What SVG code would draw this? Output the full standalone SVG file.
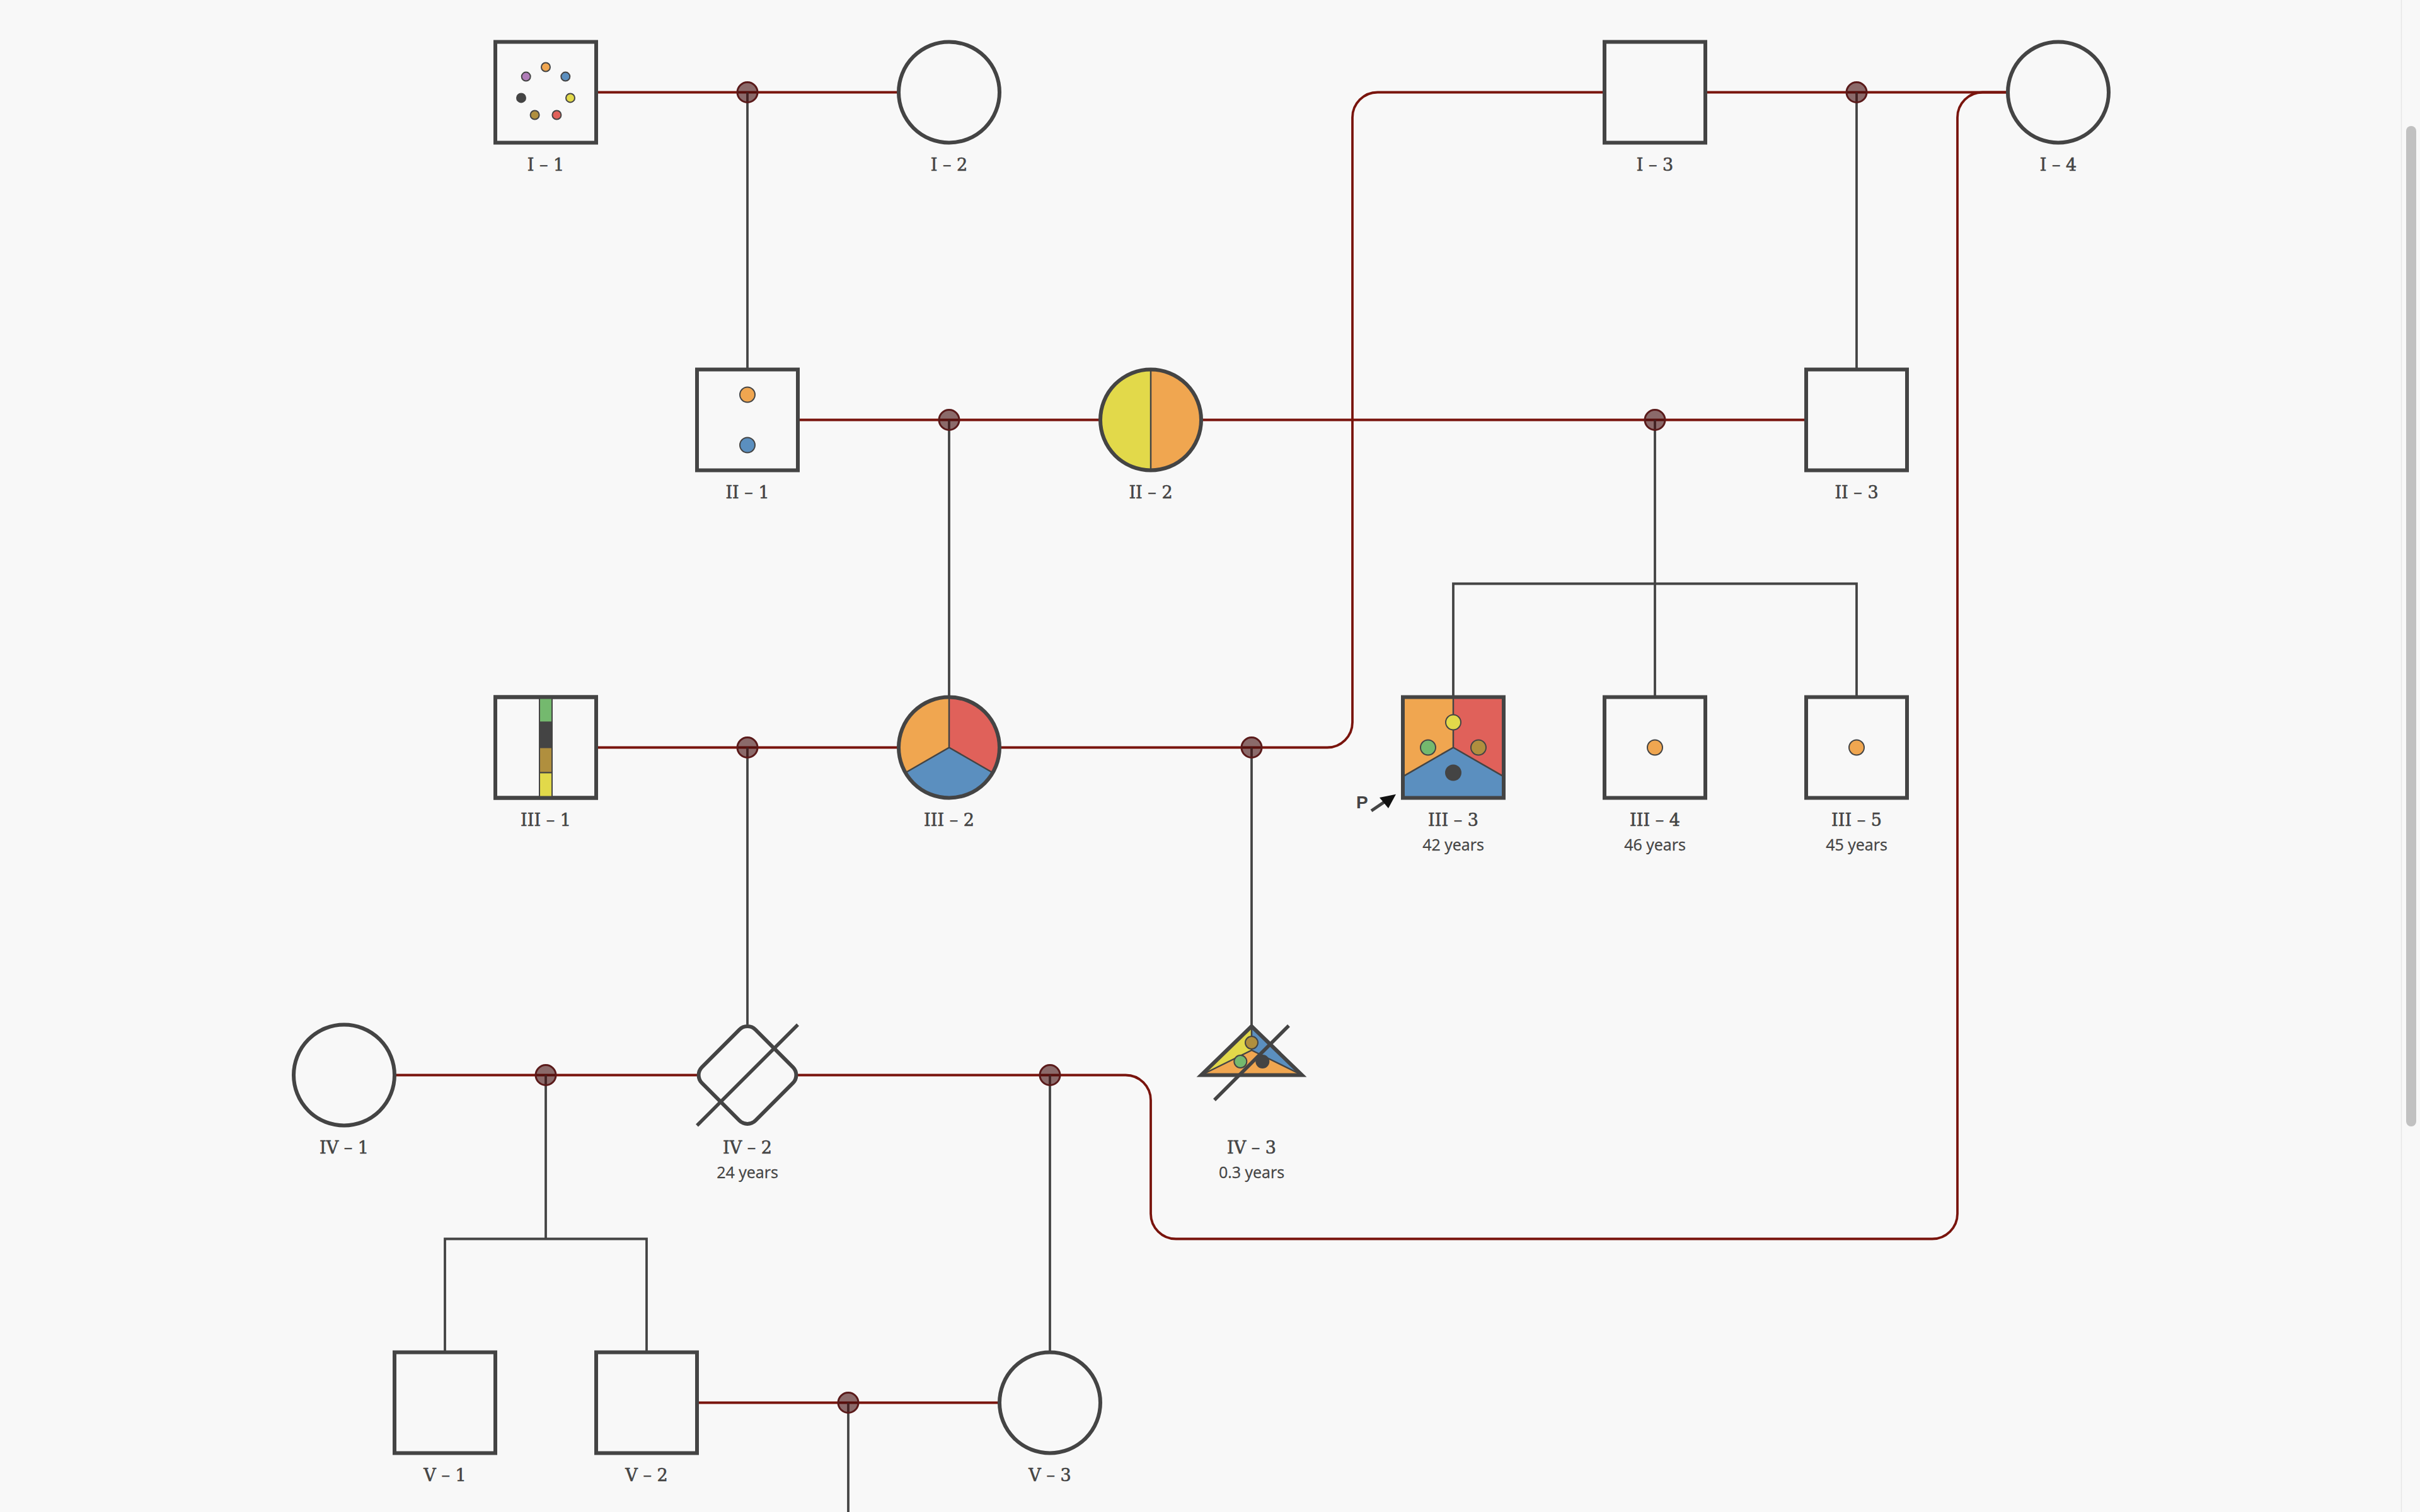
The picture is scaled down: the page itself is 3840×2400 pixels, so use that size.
<svg xmlns="http://www.w3.org/2000/svg" width="3840" height="2400" viewBox="0 0 3840 2400">
<defs>
<style>
.node{fill:#f8f8f8;stroke:#444;stroke-width:6}
.outline{fill:none;stroke:#444;stroke-width:6}
.rel{fill:none;stroke:#79140d;stroke-width:3.8}
.desc{fill:none;stroke:#444;stroke-width:3.8}
.dot{fill:#420b0b;fill-opacity:0.6;stroke:#5a1a1a;stroke-width:3}
.div{fill:none;stroke:#444;stroke-width:2.5}
.mk{stroke:#444;stroke-width:2}
.strike{stroke:#444;stroke-width:5.5;fill:none}
.lbl{font-family:"DejaVu Serif","Liberation Serif",serif;font-size:27px;fill:#444;stroke:#444;stroke-width:0.6;text-anchor:middle}
.age{font-family:"Open Sans","Noto Sans","Liberation Sans",sans-serif;font-size:25px;fill:#444;stroke:#444;stroke-width:0.3;text-anchor:middle}
.or{fill:#f0a650}.rd{fill:#e0615a}.bl{fill:#5b8fbf}.ye{fill:#e2d94a}.gr{fill:#74b96e}.br{fill:#b08f3e}.dk{fill:#444}.pu{fill:#b07cb8}
</style>
</defs>
<rect x="0" y="0" width="3840" height="2400" fill="#f8f8f8"/>

<g id="connectors">
  <path class="rel" d="M946 146.5H1426"/>
  <path class="rel" d="M2706 146.5H3186"/>
  <path class="rel" d="M1266 666.5H1746"/>
  <path class="rel" d="M1906 666.5H2866"/>
  <path class="rel" d="M946 1186.5H1426"/>
  <path class="rel" d="M1586 1186.5H2106A40 40 0 0 0 2146 1146.5V186.5A40 40 0 0 1 2186 146.5H2546"/>
  <path class="rel" d="M626 1706.5H1106"/>
  <path class="rel" d="M1266 1706.5H1786A40 40 0 0 1 1826 1746.5V1926.5A40 40 0 0 0 1866 1966.5H3066A40 40 0 0 0 3106 1926.5V186.5A40 40 0 0 1 3146 146.5H3186"/>
  <path class="rel" d="M1106 2226.5H1586"/>

  <path class="desc" d="M1186 146.5V586.5"/>
  <path class="desc" d="M2946 146.5V586.5"/>
  <path class="desc" d="M1506 666.5V1106.5"/>
  <path class="desc" d="M2626 666.5V1106.5"/>
  <path class="desc" d="M2306 1106.5V926.5H2946V1106.5"/>
  <path class="desc" d="M1186 1186.5V1626.5"/>
  <path class="desc" d="M1986 1186.5V1630"/>
  <path class="desc" d="M866 1706.5V1966.5"/>
  <path class="desc" d="M706 2146.5V1966.5H1026V2146.5"/>
  <path class="desc" d="M1666 1706.5V2146.5"/>
  <path class="desc" d="M1346 2226.5V2400"/>

  <circle class="dot" cx="1186" cy="146.5" r="16"/>
  <circle class="dot" cx="2946" cy="146.5" r="16"/>
  <circle class="dot" cx="1506" cy="666.5" r="16"/>
  <circle class="dot" cx="2626" cy="666.5" r="16"/>
  <circle class="dot" cx="1186" cy="1186.5" r="16"/>
  <circle class="dot" cx="1986" cy="1186.5" r="16"/>
  <circle class="dot" cx="866" cy="1706.5" r="16"/>
  <circle class="dot" cx="1666" cy="1706.5" r="16"/>
  <circle class="dot" cx="1346" cy="2226.5" r="16"/>
</g>

<g id="I-1">
  <rect class="node" x="786" y="66.5" width="160" height="160"/>
  <circle class="mk or" cx="866" cy="106.5" r="7"/>
  <circle class="mk bl" cx="897.3" cy="121.6" r="7"/>
  <circle class="mk ye" cx="905" cy="155.4" r="7"/>
  <circle class="mk rd" cx="883.4" cy="182.5" r="7"/>
  <circle class="mk br" cx="848.6" cy="182.5" r="7"/>
  <circle class="mk dk" cx="827" cy="155.4" r="7"/>
  <circle class="mk pu" cx="834.7" cy="121.6" r="7"/>
  <text class="lbl" x="866" y="270.5">I – 1</text>
</g>

<g id="I-2">
  <circle class="node" cx="1506" cy="146.5" r="80"/>
  <text class="lbl" x="1506" y="270.5">I – 2</text>
</g>

<g id="I-3">
  <rect class="node" x="2546" y="66.5" width="160" height="160"/>
  <text class="lbl" x="2626" y="270.5">I – 3</text>
</g>

<g id="I-4">
  <circle class="node" cx="3266" cy="146.5" r="80"/>
  <text class="lbl" x="3266" y="270.5">I – 4</text>
</g>

<g id="II-1">
  <rect class="node" x="1106" y="586.5" width="160" height="160"/>
  <circle class="mk or" cx="1186" cy="626.5" r="12"/>
  <circle class="mk bl" cx="1186" cy="706.5" r="12"/>
  <text class="lbl" x="1186" y="790.5">II – 1</text>
</g>

<g id="II-2">
  <path class="ye" d="M1826 586.5A80 80 0 0 0 1826 746.5Z"/>
  <path class="or" d="M1826 586.5A80 80 0 0 1 1826 746.5Z"/>
  <path class="div" d="M1826 586.5V746.5"/>
  <circle class="outline" cx="1826" cy="666.5" r="80"/>
  <text class="lbl" x="1826" y="790.5">II – 2</text>
</g>

<g id="II-3">
  <rect class="node" x="2866" y="586.5" width="160" height="160"/>
  <text class="lbl" x="2946" y="790.5">II – 3</text>
</g>

<g id="III-1">
  <rect class="node" x="786" y="1106.5" width="160" height="160"/>
  <rect class="mk gr" x="856" y="1106.5" width="20" height="40"/>
  <rect class="mk dk" x="856" y="1146.5" width="20" height="40"/>
  <rect class="mk br" x="856" y="1186.5" width="20" height="40"/>
  <rect class="mk ye" x="856" y="1226.5" width="20" height="40"/>
  <rect class="outline" x="786" y="1106.5" width="160" height="160"/>
  <text class="lbl" x="866" y="1310.5">III – 1</text>
</g>

<g id="III-2">
  <path class="or" d="M1506 1186.5L1506 1106.5A80 80 0 0 0 1436.72 1226.5Z"/>
  <path class="rd" d="M1506 1186.5L1506 1106.5A80 80 0 0 1 1575.28 1226.5Z"/>
  <path class="bl" d="M1506 1186.5L1436.72 1226.5A80 80 0 0 0 1575.28 1226.5Z"/>
  <path class="div" d="M1506 1106.5V1186.5L1436.72 1226.5M1506 1186.5L1575.28 1226.5"/>
  <circle class="outline" cx="1506" cy="1186.5" r="80"/>
  <text class="lbl" x="1506" y="1310.5">III – 2</text>
</g>

<g id="III-3">
  <path class="or" d="M2306 1186.5L2306 1106.5H2226V1232.7Z"/>
  <path class="rd" d="M2306 1186.5L2306 1106.5H2386V1232.7Z"/>
  <path class="bl" d="M2306 1186.5L2226 1232.7V1266.5H2386V1232.7Z"/>
  <path class="div" d="M2306 1106.5V1186.5L2226 1232.7M2306 1186.5L2386 1232.7"/>
  <rect class="outline" x="2226" y="1106.5" width="160" height="160"/>
  <circle class="mk ye" cx="2306" cy="1146.5" r="12"/>
  <circle class="mk gr" cx="2266" cy="1186.5" r="12"/>
  <circle class="mk br" cx="2346" cy="1186.5" r="12"/>
  <circle class="mk dk" cx="2306" cy="1226.5" r="12"/>
  <text x="2152" y="1283" font-family="'Liberation Sans',Arial,sans-serif" font-size="28" font-weight="bold" fill="#444">P</text>
  <path d="M2176 1287L2201 1270" stroke="#444" stroke-width="5" fill="none"/>
  <polygon points="2215,1260.7 2189,1266 2203,1283" fill="#111"/>
  <text class="lbl" x="2306" y="1310.5">III – 3</text>
  <text class="age" x="2306" y="1349.5">42 years</text>
</g>

<g id="III-4">
  <rect class="node" x="2546" y="1106.5" width="160" height="160"/>
  <circle class="mk or" cx="2626" cy="1186.5" r="12"/>
  <text class="lbl" x="2626" y="1310.5">III – 4</text>
  <text class="age" x="2626" y="1349.5">46 years</text>
</g>

<g id="III-5">
  <rect class="node" x="2866" y="1106.5" width="160" height="160"/>
  <circle class="mk or" cx="2946" cy="1186.5" r="12"/>
  <text class="lbl" x="2946" y="1310.5">III – 5</text>
  <text class="age" x="2946" y="1349.5">45 years</text>
</g>

<g id="IV-1">
  <circle class="node" cx="546" cy="1706.5" r="80"/>
  <text class="lbl" x="546" y="1830.5">IV – 1</text>
</g>

<g id="IV-2">
  <rect class="node" x="-60" y="-60" width="120" height="120" rx="18" transform="translate(1186 1706.5) rotate(45)"/>
  <path class="strike" d="M1106 1786.5L1266 1626.5"/>
  <text class="lbl" x="1186" y="1830.5">IV – 2</text>
  <text class="age" x="1186" y="1869.5">24 years</text>
</g>

<g id="IV-3">
  <polygon class="ye" points="1986,1629 1986,1667 1906,1706.5"/>
  <polygon class="bl" points="1986,1629 1986,1667 2066,1706.5"/>
  <polygon class="or" points="1986,1667 1906,1706.5 2066,1706.5"/>
  <path class="div" d="M1986 1629V1667L1906 1706.5M1986 1667L2066 1706.5"/>
  <circle class="mk br" cx="1986" cy="1655" r="10"/>
  <circle class="mk gr" cx="1968.3" cy="1685" r="10"/>
  <circle class="mk dk" cx="2003.3" cy="1685" r="10"/>
  <polygon class="outline" points="1986,1629 2066,1706.5 1906,1706.5"/>
  <path class="strike" d="M1927 1746L2045 1628"/>
  <text class="lbl" x="1986" y="1830.5">IV – 3</text>
  <text class="age" x="1986" y="1869.5">0.3 years</text>
</g>

<g id="V-1">
  <rect class="node" x="626" y="2146.5" width="160" height="160"/>
  <text class="lbl" x="706" y="2350.5">V – 1</text>
</g>

<g id="V-2">
  <rect class="node" x="946" y="2146.5" width="160" height="160"/>
  <text class="lbl" x="1026" y="2350.5">V – 2</text>
</g>

<g id="V-3">
  <circle class="node" cx="1666" cy="2226.5" r="80"/>
  <text class="lbl" x="1666" y="2350.5">V – 3</text>
</g>

<g id="scrollbar">
  <path d="M3810.5 0V2400" stroke="#e6e6e6" stroke-width="1.5"/>
  <rect x="3818" y="200" width="16" height="1588" rx="8" fill="#c1c1c1"/>
</g>
</svg>
